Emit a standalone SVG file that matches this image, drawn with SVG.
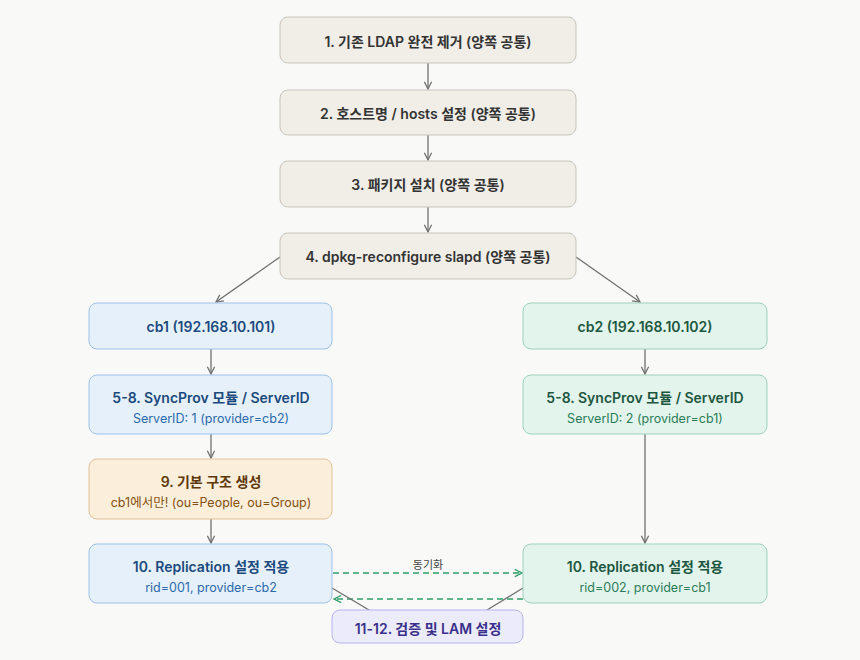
<svg xmlns="http://www.w3.org/2000/svg" width="860" height="660" viewBox="0 0 860 660">
<defs>
<marker id="ah" viewBox="0 0 10 10" refX="9" refY="5" markerWidth="9" markerHeight="9" orient="auto" markerUnits="userSpaceOnUse"><path d="M1,1 L9,5 L1,9" fill="none" stroke="#707070" stroke-width="1.4"/></marker>
<marker id="ahg" viewBox="0 0 10 10" refX="9" refY="5" markerWidth="9" markerHeight="9" orient="auto" markerUnits="userSpaceOnUse"><path d="M1,1 L9,5 L1,9" fill="none" stroke="#2e9e6a" stroke-width="1.4"/></marker>
</defs>
<style>
text{font-family:Inter,"Noto Sans CJK KR",sans-serif;text-anchor:middle;dominant-baseline:central}
.t{font-size:14px;font-weight:600}
.s{font-size:12.5px}
.gray rect{fill:#f1eee8;stroke:#c9c3b9}
.gray text{fill:#333333}
.blue rect{fill:#e6f0fb;stroke:#9cc1e8}
.blue .t{fill:#1b4a7e}.blue .s{fill:#2b69ad}
.green rect{fill:#e2f4ec;stroke:#9dd3b9}
.green .t{fill:#1d573f}.green .s{fill:#2a7c58}
.orange rect{fill:#fbeedb;stroke:#e1c298}
.orange .t{fill:#5e3808}.orange .s{fill:#86500f}
.purple rect{fill:#ecebfc;stroke:#b7b1ee}
.purple .t{fill:#3a2f8a}
.c{stroke:#707070;stroke-width:1.3;fill:none}
.d{stroke:#2e9e6a;stroke-width:1.4;fill:none;stroke-dasharray:6 4}
</style>
<rect width="860" height="660" fill="#f9f9f7"/>
<g id="connectors">
<line class="c" x1="428" y1="63" x2="428" y2="89" marker-end="url(#ah)"/>
<line class="c" x1="428" y1="135" x2="428" y2="160" marker-end="url(#ah)"/>
<line class="c" x1="428" y1="207" x2="428" y2="232" marker-end="url(#ah)"/>
<line class="c" x1="280" y1="257" x2="216" y2="302" marker-end="url(#ah)"/>
<line class="c" x1="576" y1="257" x2="640" y2="302" marker-end="url(#ah)"/>
<line class="c" x1="211" y1="349" x2="211" y2="374" marker-end="url(#ah)"/>
<line class="c" x1="211" y1="434" x2="211" y2="458" marker-end="url(#ah)"/>
<line class="c" x1="211" y1="519" x2="211" y2="543" marker-end="url(#ah)"/>
<line class="c" x1="645" y1="349" x2="645" y2="374" marker-end="url(#ah)"/>
<line class="c" x1="645" y1="434" x2="645" y2="543" marker-end="url(#ah)"/>
<line class="d" x1="333" y1="573" x2="522" y2="573" marker-end="url(#ahg)"/>
<line class="d" x1="523" y1="599" x2="334" y2="599" marker-end="url(#ahg)"/>
<rect x="408" y="557" width="40" height="15" fill="#f9f9f7"/>
<text x="428" y="565" style="font-size:11px;fill:#444">동기화</text>
<line class="c" x1="332" y1="588" x2="369" y2="610"/>
<line class="c" x1="523" y1="588" x2="487" y2="610"/>
</g>
<g id="n1" class="gray"><rect x="280" y="17" width="296" height="46" rx="8"/><text class="t" x="428" y="41">1. 기존 LDAP 완전 제거 (양쪽 공통)</text></g>
<g id="n2" class="gray"><rect x="280" y="90" width="296" height="45" rx="8"/><text class="t" x="428" y="113">2. 호스트명 / hosts 설정 (양쪽 공통)</text></g>
<g id="n3" class="gray"><rect x="280" y="161" width="296" height="46" rx="8"/><text class="t" x="428" y="184">3. 패키지 설치 (양쪽 공통)</text></g>
<g id="n4" class="gray"><rect x="280" y="233" width="296" height="46" rx="8"/><text class="t" x="428" y="256">4. dpkg-reconfigure slapd (양쪽 공통)</text></g>
<g id="cb1" class="blue"><rect x="89" y="303" width="243" height="46" rx="8"/><text class="t" x="211" y="326">cb1 (192.168.10.101)</text></g>
<g id="cb2" class="green"><rect x="523" y="303" width="244" height="46" rx="8"/><text class="t" x="645" y="326">cb2 (192.168.10.102)</text></g>
<g id="sync1" class="blue"><rect x="89" y="375" width="243" height="59" rx="8"/><text class="t" x="211" y="397">5-8. SyncProv 모듈 / ServerID</text><text class="s" x="211" y="418">ServerID: 1 (provider=cb2)</text></g>
<g id="sync2" class="green"><rect x="523" y="375" width="244" height="59" rx="8"/><text class="t" x="645" y="397">5-8. SyncProv 모듈 / ServerID</text><text class="s" x="645" y="418">ServerID: 2 (provider=cb1)</text></g>
<g id="n9" class="orange"><rect x="89" y="459" width="243" height="60" rx="8"/><text class="t" x="211" y="481">9. 기본 구조 생성</text><text class="s" x="211" y="502">cb1에서만! (ou=People, ou=Group)</text></g>
<g id="rep1" class="blue"><rect x="89" y="544" width="243" height="59" rx="8"/><text class="t" x="211" y="566">10. Replication 설정 적용</text><text class="s" x="211" y="587">rid=001, provider=cb2</text></g>
<g id="rep2" class="green"><rect x="523" y="544" width="244" height="59" rx="8"/><text class="t" x="645" y="566">10. Replication 설정 적용</text><text class="s" x="645" y="587">rid=002, provider=cb1</text></g>
<g id="n11" class="purple"><rect x="332" y="610" width="191" height="33" rx="8"/><text class="t" x="428" y="628">11-12. 검증 및 LAM 설정</text></g>
</svg>
